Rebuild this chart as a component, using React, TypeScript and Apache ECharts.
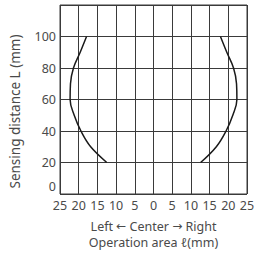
import React, { useEffect, useRef } from "react";
import * as echarts from "echarts";

const xTicks = [-25, -20, -15, -10, -5, 0, 5, 10, 15, 20, 25];
const yTicks = [0, 20, 40, 60, 80, 100];
const leftCurve: [number, number][] = [
  [-17.9, 100], [-19.6, 90], [-21.4, 80], [-22.2, 70], [-22.3, 60],
  [-21.2, 50], [-19.4, 40], [-16.8, 30], [-12.5, 20],
];
const rightCurve: [number, number][] = [
  [17.9, 100], [19.6, 90], [21.4, 80], [22.2, 70], [22.3, 60],
  [21.2, 50], [19.4, 40], [16.8, 30], [12.6, 20],
];
const xName = "Left {a|←} Center {a|→} Right\nOperation area ℓ(mm)";
const yName = "Sensing distance L (mm)";

const font = "'Noto Sans', sans-serif";
const txt = "#4a4a4a";
const gridColor = "#3a3a3a";

export default function App() {
  const ref = useRef<HTMLDivElement>(null);
  useEffect(() => {
    const chart = echarts.init(ref.current!, undefined, { renderer: "svg" });
    chart.setOption({
      animation: false,
      grid: { left: 58, right: 13, top: 5, bottom: 61, show: true, borderColor: gridColor, borderWidth: 1 },
      xAxis: {
        type: "value",
        min: -25,
        max: 25,
        interval: 5,
        name: xName,
        nameLocation: "middle",
        nameGap: 24,
        nameTextStyle: {
          color: txt,
          fontSize: 12.5,
          fontFamily: font,
          lineHeight: 16,
          rich: {
            a: { color: txt, fontSize: 12, fontFamily: "'DejaVu Sans', sans-serif", lineHeight: 16 },
          },
        },
        axisLine: { show: false },
        axisTick: { show: false },
        splitLine: { show: true, lineStyle: { color: gridColor, width: 1 } },
        axisLabel: {
          color: txt,
          fontSize: 12.5,
          fontFamily: font,
          margin: 5,
          formatter: (v: number) => (xTicks.includes(v) ? String(Math.abs(v)) : ""),
        },
      },
      yAxis: {
        type: "value",
        min: 0,
        max: 120,
        interval: 20,
        name: yName,
        nameLocation: "middle",
        nameGap: 38,
        nameTextStyle: { color: txt, fontSize: 13.5, fontFamily: font, padding: [0, 24, 0, 0] },
        axisLine: { show: false },
        axisTick: { show: false },
        splitLine: { show: true, lineStyle: { color: gridColor, width: 1 } },
        axisLabel: {
          color: txt,
          fontSize: 12.5,
          fontFamily: font,
          margin: 4,
          formatter: (v: number) =>
            yTicks.includes(v) ? (v === 0 ? "{z|0}" : String(v)) : "",
          rich: {
            z: { color: txt, fontSize: 12.5, fontFamily: font, padding: [0, 0, 15, 0] },
          },
        },
      },
      series: [
        {
          type: "line",
          data: leftCurve,
          smooth: 0.4,
          showSymbol: false,
          lineStyle: { color: "#1a1a1a", width: 1.5 },
        },
        {
          type: "line",
          data: rightCurve,
          smooth: 0.4,
          showSymbol: false,
          lineStyle: { color: "#1a1a1a", width: 1.5 },
        },
      ],
    });
    return () => chart.dispose();
  }, []);
  return <div ref={ref} style={{ width: 260, height: 255, position: "absolute", left: 0, top: 0 }} />;
}
